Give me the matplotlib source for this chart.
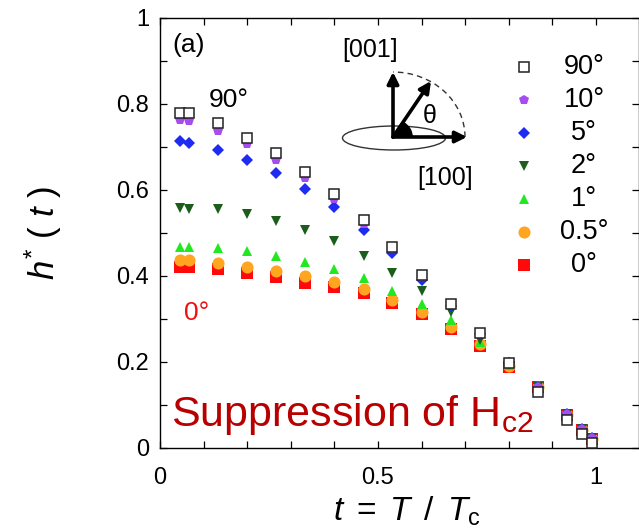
import matplotlib
matplotlib.use("Agg")
import matplotlib.pyplot as plt
from matplotlib.patches import Ellipse, Arc, Wedge
from matplotlib.ticker import MultipleLocator, FixedLocator

plt.rcParams['font.family'] = ['Liberation Sans', 'DejaVu Sans']
plt.rcParams['mathtext.fontset'] = 'custom'
plt.rcParams['mathtext.it'] = 'Liberation Sans:italic'
plt.rcParams['mathtext.rm'] = 'Liberation Sans'

# ---- data ----
t = [0.047, 0.067, 0.133, 0.2, 0.267, 0.333, 0.4, 0.467, 0.533, 0.6,
     0.667, 0.733, 0.8, 0.867, 0.933, 0.967, 0.99]

h90 = [0.778, 0.778, 0.755, 0.722, 0.686, 0.641, 0.590, 0.530, 0.467, 0.402,
       0.335, 0.267, 0.198, 0.131, 0.064, 0.032, 0.012]
h10 = [0.763, 0.760, 0.737, 0.706, 0.670, 0.628, 0.578, 0.522, 0.462, 0.398,
       0.333, 0.268, 0.200, 0.143, 0.078, 0.044, 0.023]
h5 = [0.715, 0.710, 0.693, 0.670, 0.639, 0.602, 0.560, 0.507, 0.453, 0.390,
      0.330, 0.265, 0.198, 0.143, 0.078, 0.044, 0.023]
h2 = [0.557, 0.556, 0.555, 0.544, 0.529, 0.507, 0.482, 0.447, 0.408, 0.366,
      0.317, 0.251, 0.195, 0.143, 0.078, 0.044, 0.023]
h1 = [0.468, 0.468, 0.464, 0.459, 0.447, 0.433, 0.417, 0.395, 0.366, 0.335,
      0.298, 0.246, 0.193, 0.143, 0.078, 0.044, 0.023]
h05 = [0.437, 0.437, 0.430, 0.422, 0.412, 0.400, 0.387, 0.370, 0.344, 0.317,
       0.281, 0.242, 0.191, 0.142, 0.077, 0.043, 0.022]
h0 = [0.422, 0.422, 0.416, 0.408, 0.398, 0.384, 0.375, 0.360, 0.338, 0.312,
      0.276, 0.238, 0.189, 0.142, 0.077, 0.043, 0.022]

labels = ['90°', '10°', '5°', '2°', '1°', '0.5°', '0°']
series = [h90, h10, h5, h2, h1, h05, h0]
xticks = [0, 0.5, 1]
xticklabels = ['0', '0.5', '1']
yticks = [0, 0.2, 0.4, 0.6, 0.8, 1.0]
yticklabels = ['0', '0.2', '0.4', '0.6', '0.8', '1']

styles = {
    '90°': dict(marker='s', ms=7.5, mfc='white', mec='#222222', mew=1.1),
    '10°': dict(marker='p', ms=7.5, mfc='#A64DF0', mec='#A64DF0', mew=0),
    '5°': dict(marker='D', ms=6.3, mfc='#1E2BF0', mec='#1E2BF0', mew=0),
    '2°': dict(marker='v', ms=7.5, mfc='#1B5E1B', mec='#1B5E1B', mew=0),
    '1°': dict(marker='^', ms=7.5, mfc='#22E822', mec='#22E822', mew=0),
    '0.5°': dict(marker='o', ms=8.7, mfc='#FFA51F', mec='#FFA51F', mew=0),
    '0°': dict(marker='s', ms=8, mfc='#FF0A0A', mec='#FF0A0A', mew=0),
}

fig = plt.figure(figsize=(6.39, 5.32), dpi=100)
ax = fig.add_axes([160 / 639, 1 - 448 / 532, 479 / 639, 430 / 532])
ax.set_xlim(0, 479 / 436)
ax.set_ylim(0, 1)

# draw from 0° upward so that 90° ends on top
for lab, h in reversed(list(zip(labels, series))):
    ax.plot(t, h, linestyle='none', **styles[lab], zorder=3)

# legend built by hand (markers left, centered labels)
leg_y0 = 1 - (67 - 18) / 430
for i, lab in enumerate(labels):
    yy = leg_y0 - i * 33 / 430
    ax.plot([(524 - 160) / 479], [yy], transform=ax.transAxes,
            linestyle='none', clip_on=False, **styles[lab])
    ax.text((584 - 160) / 479, yy, lab, transform=ax.transAxes,
            ha='center', va='center', fontsize=19.5)

# axes styling
ax.xaxis.set_major_locator(FixedLocator(xticks))
ax.set_xticklabels(xticklabels)
ax.xaxis.set_minor_locator(MultipleLocator(0.1))
ax.yaxis.set_major_locator(FixedLocator(yticks))
ax.set_yticklabels(yticklabels)
ax.yaxis.set_minor_locator(MultipleLocator(0.1))
ax.tick_params(which='both', direction='in', top=True, right=True,
               length=5, width=0.9, labelsize=17)
ax.tick_params(axis='y', pad=8)
ax.tick_params(axis='x', pad=14)
for sp in ax.spines.values():
    sp.set_linewidth(1.0)

ax.set_xlabel(r'$t\,$ = $\,T\,$ / $\,T_{\rm c}$', fontsize=24)
ax.xaxis.set_label_coords((407 - 160) / 479, -(495 - 448) / 430)
ax.set_ylabel(r'$h^{*}$ ( $t$ )', fontsize=25)
ax.yaxis.set_label_coords(-(160 - 64) / 479, 0.5)

# annotations
ax.text((172 - 160) / 479, 1 - (45 - 18) / 430, '(a)', transform=ax.transAxes,
        fontsize=19, ha='left', va='center')
ax.text((229 - 160) / 479, 1 - (100 - 18) / 430, '90°', transform=ax.transAxes,
        fontsize=19, ha='center', va='center')
ax.text((197 - 160) / 479, 1 - (313 - 18) / 430, '0°', transform=ax.transAxes,
        fontsize=19, ha='center', va='center', color='#EE1111')
ax.text((171 - 160) / 479, 1 - (415 - 18) / 430, 'Suppression of H$_{\\rm c2}$',
        transform=ax.transAxes, fontsize=31, ha='left', va='center',
        color='#B80000')

# orientation sketch (axes-fraction coordinates)
def P(px, py):
    return ((px - 160) / 479, 1 - (py - 18) / 430)

tr = ax.transAxes
ox, oy = P(393, 137)
ell = Ellipse(P(394, 138), 103 / 479, 24 / 430, transform=tr, fill=False,
              ec='#333333', lw=1.0)
ax.add_patch(ell)
arc = Arc((ox, oy), 2 * 72 / 479, 2 * 65 / 430, theta1=0, theta2=90,
          transform=tr, ls=(0, (4, 3)), ec='#333333', lw=1.0)
ax.add_patch(arc)
wed = Wedge((ox, oy), 0.04, 0, 55, transform=tr, fc='black', ec='black')
ax.add_patch(wed)
for end in [P(393, 72), P(467, 137), P(431, 81)]:
    ax.annotate('', xy=end, xytext=(ox, oy), xycoords=tr, textcoords=tr,
                arrowprops=dict(arrowstyle='-|>', lw=2.6, color='black',
                                mutation_scale=17, shrinkA=0, shrinkB=0))
ax.text(*P(430, 116), 'θ', transform=tr, fontsize=18, ha='center', va='center')
ax.text(*P(370, 50), '[001]', transform=tr, fontsize=18, ha='center', va='center')
ax.text(*P(445, 178), '[100]', transform=tr, fontsize=18, ha='center', va='center')

fig.savefig('out.png', dpi=100)
